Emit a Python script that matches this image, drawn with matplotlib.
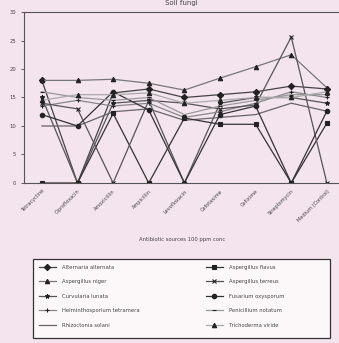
import matplotlib.pyplot as plt
from matplotlib.patches import Rectangle

antibiotics = ["Tetracycline", "Ciprofloxacin", "Amoxicillin", "Ampicillin",
               "Levofloxacin", "Cefotaxime", "Cefixime", "Streptomycin",
               "Medium (Control)"]

alternaria_alternata = [18.0, 0.0, 15.8, 16.5, 15.0, 15.5, 16.0, 17.0, 16.5]
aspergillus_flavus = [0.0, 0.0, 12.2, 0.0, 11.4, 10.3, 10.3, 0.0, 10.5]
aspergillus_niger = [18.0, 18.0, 18.2, 17.5, 16.3, 18.4, 20.4, 22.5, 16.7]
aspergillus_terreus = [14.0, 13.0, 0.0, 14.5, 14.0, 13.0, 13.7, 25.6, 0.0]
curvularia_lunata = [15.0, 0.0, 14.0, 14.5, 0.0, 14.0, 15.0, 15.0, 14.0]
fusarium_oxysporum = [12.0, 10.0, 16.0, 12.8, 0.0, 12.0, 13.5, 0.0, 12.6]
helminthosporium_tetramera = [13.5, 14.5, 13.5, 14.0, 11.5, 12.5, 14.0, 16.0, 15.0]
penicillium_notatum = [16.0, 15.0, 14.5, 15.0, 12.0, 13.5, 14.5, 15.5, 15.5]
rhizoctonia_solani = [10.0, 10.0, 12.5, 13.0, 11.0, 11.5, 12.0, 14.0, 12.6]
trichoderma_viride = [14.5, 15.5, 15.5, 15.8, 14.0, 14.5, 15.0, 15.0, 16.0]

# legend is filled column-wise, so left column first
series = [
    ("Alternaria alternata", alternaria_alternata, "D", "#444444"),
    ("Aspergillus niger", aspergillus_niger, "^", "#777777"),
    ("Curvularia lunata", curvularia_lunata, "*", "#555555"),
    ("Helminthosporium tetramera", helminthosporium_tetramera, "+", "#888888"),
    ("Rhizoctonia solani", rhizoctonia_solani, "", "#666666"),
    ("Aspergillus flavus", aspergillus_flavus, "s", "#333333"),
    ("Aspergillus terreus", aspergillus_terreus, "x", "#555555"),
    ("Fusarium oxysporum", fusarium_oxysporum, "o", "#333333"),
    ("Penicillium notatum", penicillium_notatum, "_", "#999999"),
    ("Trichoderma viride", trichoderma_viride, "^", "#aaaaaa"),
]

bg = "#f4e4ee"
fig = plt.figure(figsize=(3.39, 3.43), dpi=100, facecolor=bg)
ax = fig.add_axes([0.071, 0.4665, 0.93, 0.4985])
ax.set_facecolor(bg)

xs = range(len(antibiotics))
for name, vals, mk, col in series:
    ax.plot(xs, vals, color=col, lw=0.9, marker=mk if mk else None,
            ms=3.2, mfc="#222222", mec="#222222", mew=0.8, label=name)

ax.set_xlim(-0.5, 8.35)
ax.set_ylim(0, 30)
ax.set_yticks(range(0, 31, 5))
ax.set_xticks(list(xs))
ax.set_xticklabels(antibiotics, rotation=45, ha="right", rotation_mode="anchor",
                   fontsize=3.6, color="#444444")
ax.tick_params(axis="y", labelsize=3.8, length=2, width=0.6, colors="#444444")
ax.tick_params(axis="x", length=0, pad=4)
ax.spines["right"].set_visible(False)
for s in ["left", "top", "bottom"]:
    ax.spines[s].set_color("#555555")
    ax.spines[s].set_linewidth(0.8)

ax.set_title("Soil fungi", fontsize=5, color="#444444", pad=5)
ax.set_xlabel("Antibiotic sources 100 ppm conc", fontsize=3.8,
              color="#444444", labelpad=10)

# legend frame drawn separately so it can be wider than the entries
box = Rectangle((33 / 339, 1 - 338 / 343), 297 / 339, 79 / 343,
                transform=fig.transFigure, facecolor="#fcf8fa",
                edgecolor="#333333", lw=0.9)
fig.patches.append(box)

leg = fig.legend(loc="upper left", bbox_to_anchor=(0.098, 0.245),
                 ncol=2, fontsize=3.8, frameon=False,
                 handlelength=3.2, handletextpad=1.2, borderaxespad=0,
                 labelspacing=1.8, borderpad=1.1, columnspacing=12.5)
for t in leg.get_texts():
    t.set_color("#444444")

fig.savefig("out.png", dpi=100, facecolor=bg)
